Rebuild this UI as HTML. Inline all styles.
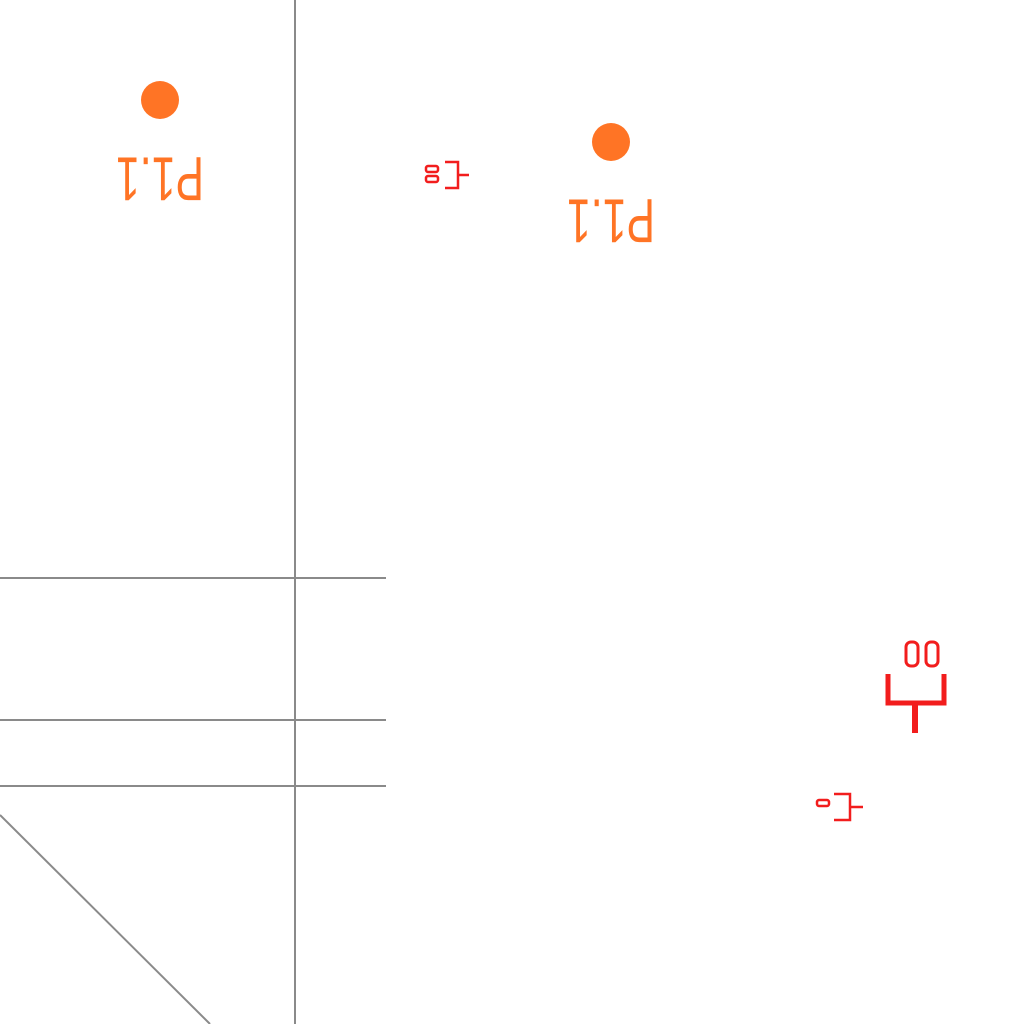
<!DOCTYPE html>
<html><head><meta charset="utf-8"><style>html,body{margin:0;padding:0;background:#fff;}svg{display:block}</style></head>
<body>
<svg width="1024" height="1024" viewBox="0 0 1024 1024">
<g stroke="#8a8a8a" stroke-width="2" fill="none">
<line x1="295" y1="0" x2="295" y2="1024"/>
<line x1="0" y1="578" x2="386" y2="578"/>
<line x1="0" y1="720" x2="386" y2="720"/>
<line x1="0" y1="786" x2="386" y2="786"/>
<line x1="0" y1="815" x2="210" y2="1024"/>
</g>
<g>
<circle cx="160" cy="100" r="19" fill="#ff7425"/>
<text x="160" y="178" text-anchor="middle" dominant-baseline="central" font-family="Liberation Sans, sans-serif" font-size="62" textLength="88" lengthAdjust="spacingAndGlyphs" fill="#ff7425" transform="rotate(180 160 178)">P1.1</text>
<circle cx="611" cy="142" r="19" fill="#ff7425"/>
<text x="611" y="220" text-anchor="middle" dominant-baseline="central" font-family="Liberation Sans, sans-serif" font-size="62" textLength="88" lengthAdjust="spacingAndGlyphs" fill="#ff7425" transform="rotate(180 611 220)">P1.1</text>
</g>
<g stroke="#f21d1d" fill="none" stroke-width="2.5">
<g>
<rect x="426" y="166" width="12" height="6" rx="2"/><rect x="426" y="176" width="12" height="6" rx="2"/>
<path d="M445 162 H458 V188 H445 M458 175 H469"/>
</g>
<g>
<rect x="906" y="642" width="12" height="24" rx="5" stroke-width="3"/><rect x="926" y="642" width="12" height="24" rx="5" stroke-width="3"/>
<path d="M888 674 V703 H944 V674" stroke-width="5"/>
<path d="M915 703 V733" stroke-width="6"/>
</g>
<g>
<rect x="817" y="800" width="12" height="6" rx="2"/>
<path d="M834 794 H850 V820 H834 M850 807 H863"/>
</g>
</g>
</svg>
</body></html>
